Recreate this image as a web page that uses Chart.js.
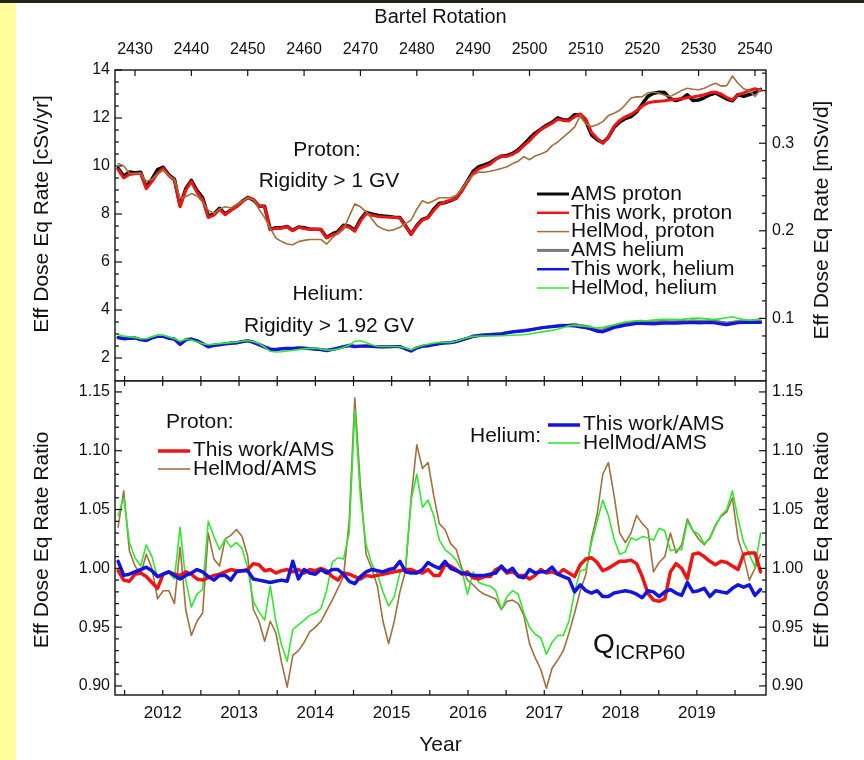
<!DOCTYPE html>
<html><head><meta charset="utf-8">
<script src="https://cdn.jsdelivr.net/npm/chart.js@4.4.1/dist/chart.umd.min.js"></script>
<style>
html,body{margin:0;padding:0;background:#fff;}
#wrap{position:relative;width:864px;height:760px;overflow:hidden;background:#fff;}
#topbar{position:absolute;left:0;top:0;width:864px;height:3px;background:#232318;}
#strip{position:absolute;left:0;top:3px;width:16px;height:757px;background:#FFFF9C;}
#c1{position:absolute;left:0;top:0;}
#c2{position:absolute;left:0;top:370px;}
</style></head><body>
<div id="wrap"><div id="topbar"></div><div id="strip"></div>
<canvas id="c1" width="864" height="381"></canvas>
<canvas id="c2" width="864" height="390"></canvas>
</div>
<script>
// ---------- DATA (one value per Bartels rotation) ----------
const BR = [2427,2428,2429,2430,2431,2432,2433,2434,2435,2436,
2437,2438,2439,2440,2441,2442,2443,2444,2445,2446,
2447,2448,2449,2450,2451,2452,2453,2454,2455,2456,
2457,2458,2459,2460,2461,2462,2463,2464,2465,2466,
2467,2468,2469,2470,2471,2472,2473,2474,2475,2476,
2477,2478,2479,2480,2481,2482,2483,2484,2485,2486,
2487,2488,2489,2490,2491,2492,2493,2494,2495,2496,
2497,2498,2499,2500,2501,2502,2503,2504,2505,2506,
2507,2508,2509,2510,2511,2512,2513,2514,2515,2516,
2517,2518,2519,2520,2521,2522,2523,2524,2525,2526,
2527,2528,2529,2530,2531,2532,2533,2534,2535,2536,
2537,2538,2539,2540,2541];

// Effective dose equivalent rate [cSv/yr]
const AMS_PROTON = [9.9,9.58,9.75,9.72,9.74,9.12,9.45,9.85,9.95,9.63,
9.45,8.35,9.05,9.4,8.98,8.68,7.92,8.0,8.24,8.0,
8.16,8.32,8.52,8.69,8.59,8.33,8.32,7.36,7.43,7.43,
7.48,7.32,7.46,7.43,7.37,7.36,7.35,7.02,7.17,7.27,
7.53,7.49,7.33,7.77,8.07,8.0,7.95,7.92,7.9,7.87,
7.85,7.51,7.16,7.52,7.78,7.86,8.2,8.45,8.47,8.56,
8.66,9.0,9.38,9.78,9.97,10.05,10.14,10.29,10.41,10.44,
10.52,10.68,10.91,11.15,11.37,11.53,11.7,11.82,12.01,11.92,
11.93,12.14,12.13,11.85,11.3,11.1,10.97,11.2,11.61,11.83,
11.98,12.06,12.25,12.58,12.9,13.03,13.07,13.06,12.8,12.73,
12.8,12.97,12.73,12.75,12.84,12.97,13.04,12.92,12.79,12.72,
12.98,12.9,12.98,13.05,13.19];
const THIS_PROTON = [9.85,9.5,9.65,9.68,9.7,9.05,9.35,9.7,9.9,9.6,
9.4,8.3,9.0,9.35,8.9,8.6,7.85,7.95,8.2,7.97,
8.15,8.3,8.5,8.68,8.62,8.35,8.3,7.35,7.4,7.42,
7.47,7.3,7.45,7.4,7.36,7.35,7.35,7.0,7.12,7.2,
7.5,7.45,7.28,7.7,8.02,7.95,7.9,7.88,7.87,7.85,
7.83,7.5,7.15,7.5,7.75,7.85,8.15,8.4,8.5,8.58,
8.65,8.95,9.35,9.7,9.88,9.98,10.07,10.28,10.42,10.4,
10.49,10.62,10.85,11.05,11.3,11.52,11.65,11.78,11.95,11.9,
11.88,12.05,12.17,11.95,11.4,11.15,10.95,11.2,11.65,11.9,
12.05,12.15,12.3,12.5,12.63,12.68,12.7,12.72,12.76,12.78,
12.8,12.85,12.88,12.92,12.97,13.05,13.08,13.0,12.85,12.75,
12.97,13.05,13.15,13.22,13.15];
const HELMOD_PROTON = [10.1,10.0,9.7,9.68,9.7,9.35,9.45,9.65,9.83,9.6,
9.45,8.65,8.72,8.85,8.75,8.5,8.15,8.03,8.2,8.3,
8.25,8.4,8.52,8.68,8.6,8.2,7.85,7.4,7.0,6.85,
6.75,6.72,6.85,6.9,6.94,6.94,6.94,6.75,7.0,7.2,
7.35,7.9,8.42,8.3,8.1,7.8,7.5,7.38,7.3,7.35,
7.45,7.6,7.75,8.2,8.55,8.45,8.55,8.68,8.68,8.68,
8.78,9.05,9.4,9.62,9.75,9.74,9.78,9.83,9.9,9.97,
10.1,10.2,10.39,10.26,10.42,10.5,10.6,10.85,11.0,11.2,
11.4,11.62,12.1,11.75,11.65,11.72,11.85,12.1,12.2,12.32,
12.55,12.83,12.88,12.89,13.05,13.08,13.03,12.95,12.9,13.02,
13.15,13.24,13.2,13.18,13.24,13.35,13.45,13.33,13.35,13.75,
13.45,13.22,13.15,12.9,13.2];
const AMS_HELIUM = [2.84,2.82,2.83,2.84,2.76,2.73,2.84,2.92,2.91,2.83,
2.8,2.58,2.77,2.8,2.72,2.61,2.48,2.55,2.56,2.6,
2.64,2.64,2.68,2.72,2.67,2.58,2.48,2.39,2.37,2.4,
2.42,2.39,2.43,2.41,2.4,2.38,2.35,2.32,2.36,2.41,
2.48,2.54,2.5,2.5,2.51,2.48,2.47,2.47,2.47,2.48,
2.46,2.39,2.3,2.43,2.49,2.5,2.56,2.6,2.62,2.64,
2.69,2.76,2.83,2.92,2.95,2.97,2.99,3.0,3.0,3.06,
3.09,3.13,3.16,3.17,3.22,3.26,3.29,3.31,3.35,3.37,
3.38,3.41,3.35,3.32,3.27,3.18,3.17,3.26,3.34,3.39,
3.44,3.47,3.52,3.53,3.5,3.49,3.52,3.52,3.51,3.52,
3.54,3.51,3.55,3.53,3.53,3.57,3.53,3.49,3.46,3.49,
3.52,3.54,3.53,3.56,3.54];
const THIS_HELIUM = [2.85,2.8,2.82,2.83,2.76,2.73,2.83,2.9,2.9,2.82,
2.78,2.56,2.75,2.79,2.72,2.6,2.46,2.52,2.55,2.59,
2.61,2.63,2.68,2.72,2.65,2.55,2.45,2.36,2.35,2.38,
2.39,2.4,2.41,2.41,2.39,2.37,2.35,2.31,2.36,2.41,
2.47,2.51,2.47,2.49,2.5,2.48,2.47,2.46,2.47,2.48,
2.48,2.38,2.29,2.42,2.49,2.51,2.56,2.6,2.63,2.64,
2.68,2.75,2.82,2.9,2.93,2.95,2.97,2.99,3.01,3.05,
3.09,3.11,3.13,3.17,3.21,3.25,3.28,3.31,3.33,3.35,
3.35,3.34,3.3,3.26,3.2,3.12,3.09,3.18,3.27,3.32,
3.37,3.4,3.44,3.44,3.43,3.42,3.44,3.45,3.45,3.45,
3.46,3.47,3.48,3.46,3.47,3.48,3.46,3.42,3.39,3.43,
3.47,3.48,3.48,3.48,3.48];
const HELMOD_HELIUM = [2.98,2.91,2.88,2.86,2.8,2.8,2.88,2.95,2.95,2.88,
2.8,2.7,2.78,2.75,2.68,2.6,2.55,2.57,2.6,2.62,
2.64,2.66,2.7,2.73,2.68,2.6,2.45,2.28,2.25,2.26,
2.29,2.32,2.35,2.38,2.4,2.41,2.38,2.32,2.34,2.37,
2.45,2.53,2.7,2.72,2.65,2.55,2.49,2.48,2.48,2.48,
2.47,2.42,2.34,2.45,2.52,2.57,2.62,2.65,2.65,2.65,
2.7,2.77,2.85,2.9,2.92,2.92,2.92,2.92,2.93,2.94,
2.95,2.96,2.97,3.0,3.04,3.08,3.12,3.15,3.2,3.27,
3.34,3.37,3.34,3.31,3.28,3.25,3.28,3.33,3.38,3.45,
3.5,3.53,3.54,3.55,3.56,3.58,3.6,3.61,3.61,3.6,
3.61,3.63,3.65,3.66,3.64,3.62,3.61,3.64,3.68,3.72,
3.65,3.6,3.58,3.59,3.65];

// Ratios to AMS
const RATIO_THIS_PROTON = [0.998,0.990,0.989,0.995,0.996,0.993,0.988,0.983,0.995,0.997,
0.995,0.994,0.997,0.995,0.991,0.990,0.992,0.994,0.995,0.997,
0.999,0.998,0.998,0.999,1.004,1.003,0.998,0.999,0.996,0.998,
0.999,0.997,0.999,0.996,0.999,0.998,1.000,0.998,0.993,0.990,
0.996,0.995,0.993,0.991,0.994,0.993,0.994,0.995,0.996,0.997,
0.998,0.999,0.999,0.997,0.996,0.999,0.994,0.994,1.003,1.002,
0.999,0.995,0.997,0.992,0.991,0.993,0.993,0.999,1.001,0.996,
0.997,0.994,0.994,0.991,0.994,0.999,0.996,0.997,0.995,0.999,
0.996,0.993,1.003,1.008,1.009,1.005,0.998,1.000,1.003,1.006,
1.006,1.007,1.004,0.993,0.979,0.973,0.972,0.974,0.997,1.004,
1.000,0.991,1.012,1.013,1.010,1.006,1.003,1.006,1.005,1.002,
0.999,1.012,1.013,1.013,0.997];
const RATIO_HELMOD_PROTON = [1.035,1.066,1.015,1.002,0.995,1.012,1.000,0.974,0.981,0.981,
0.970,1.018,0.965,0.943,0.955,0.962,1.030,1.008,1.002,1.025,
1.028,1.033,1.027,1.010,0.965,0.955,0.938,0.955,0.945,0.920,
0.899,0.926,0.930,0.937,0.946,0.950,0.955,0.964,0.973,0.983,
0.993,1.040,1.145,1.070,1.012,1.000,0.985,0.955,0.936,0.955,
0.980,0.998,1.060,1.105,1.085,1.090,1.062,1.038,1.033,1.021,
1.016,1.000,0.990,0.986,0.981,0.978,0.976,0.974,0.965,0.972,
0.973,0.970,0.960,0.936,0.924,0.914,0.898,0.915,0.922,0.930,
0.945,0.962,0.981,0.995,1.025,1.046,1.080,1.090,1.062,1.030,
1.022,1.030,1.045,1.038,1.033,0.997,1.005,1.010,1.030,1.013,
1.020,1.042,1.032,1.025,1.020,1.026,1.037,1.044,1.048,1.060,
1.025,1.010,0.990,1.000,1.012];
const RATIO_THIS_HELIUM = [1.006,0.994,0.995,0.997,0.999,1.001,0.998,0.993,0.995,0.997,
0.994,0.991,0.994,0.996,0.999,0.997,0.993,0.990,0.994,0.994,
0.990,0.997,0.998,0.998,0.991,0.990,0.989,0.988,0.989,0.990,
0.989,1.006,0.991,0.999,0.996,0.995,0.999,0.996,0.999,0.999,
0.995,0.989,0.987,0.993,0.997,0.999,0.998,0.997,0.999,1.000,
1.006,0.997,0.996,0.996,0.999,1.005,1.002,1.000,1.006,1.000,
0.998,0.996,0.995,0.994,0.994,0.994,0.995,0.996,1.002,0.997,
1.000,0.993,0.992,0.999,0.996,0.997,0.997,1.001,0.995,0.993,
0.991,0.980,0.986,0.981,0.979,0.981,0.976,0.976,0.979,0.980,
0.981,0.980,0.978,0.975,0.981,0.980,0.976,0.980,0.982,0.979,
0.977,0.988,0.980,0.981,0.983,0.976,0.981,0.980,0.979,0.983,
0.986,0.984,0.986,0.977,0.982];
const RATIO_HELMOD_HELIUM = [1.045,1.060,1.022,1.009,1.002,1.020,1.010,0.992,0.995,0.996,
0.991,1.035,0.990,0.967,0.978,0.982,1.040,1.027,1.016,1.025,
1.018,1.022,1.017,1.000,0.972,0.963,0.956,0.985,0.955,0.935,
0.921,0.948,0.952,0.956,0.960,0.962,0.966,0.981,1.005,1.009,
1.008,1.030,1.135,1.060,1.020,1.004,0.995,0.980,0.968,0.976,
0.996,1.001,1.058,1.080,1.052,1.058,1.045,1.024,1.016,1.012,
1.007,0.998,0.978,0.997,0.988,0.986,0.985,0.981,0.965,0.976,
0.981,0.978,0.962,0.950,0.944,0.941,0.927,0.937,0.943,0.943,
0.955,0.980,0.998,0.999,1.022,1.040,1.058,1.045,1.025,1.012,
1.014,1.026,1.024,1.027,1.026,1.024,1.034,1.032,1.015,1.016,
1.016,1.040,1.032,1.029,1.021,1.025,1.036,1.045,1.050,1.066,
1.042,1.022,1.012,1.001,1.030];

// Tick labels
const BR_TICKS = [2430,2440,2450,2460,2470,2480,2490,2500,2510,2520,2530,2540];
const YEAR_LABELS = [2012,2013,2014,2015,2016,2017,2018,2019];
const DOSE_TICKS = [2,4,6,8,10,12,14];
const MSV_TICKS = [0.1,0.2,0.3];
const RATIO_TICKS = [0.90,0.95,1.00,1.05,1.10,1.15];

// ---------- layout / conversion constants ----------
const X_MIN = 2426.45, X_MAX = 2541.96;
const BR_AT_2012 = 2434.92, BR_PER_YEAR = 13.54;
const yearToBR = y => BR_AT_2012 + (y - 2012) * BR_PER_YEAR;
const CSV_PER_MSVD = 36.5;
const DOSE_MIN = 1.042, DOSE_MAX = 14;
const RATIO_MIN = 0.8923, RATIO_MAX = 1.1593;

const FONT = "'Liberation Sans', Arial, Helvetica, sans-serif";
Chart.defaults.font.family = FONT;
Chart.defaults.color = '#111';

const C = {black:'#0a0a0a', red:'#EE1515', brown:'#A0703F', gray:'#7a7a7a', blue:'#1414DC', green:'#33E633'};

function seq(a,b,s){const r=[];for(let v=a;v<=b+1e-9;v+=s)r.push(+v.toFixed(4));return r;}
function ds(label, vals, color, width, order, yID){
  return {label, data: BR.map((b,i)=>({x:b,y:vals[i]})), borderColor:color, backgroundColor:color,
    borderWidth:width, pointRadius:0, pointHoverRadius:0, tension:0, order, fill:false,
    borderJoinStyle:'round', borderCapStyle:'round', yAxisID: yID||'y'};
}
function txt(ctx,s,x,y,size,align){ctx.font=size+'px '+FONT;ctx.textAlign=align||'left';ctx.textBaseline='middle';ctx.fillStyle='#111';ctx.fillText(s,x,y);}
function vtxt(ctx,s,x,y,size){ctx.save();ctx.translate(x,y);ctx.rotate(-Math.PI/2);txt(ctx,s,0,0,size,'center');ctx.restore();}
function seg(ctx,x1,x2,y,color,w){ctx.strokeStyle=color;ctx.lineWidth=w;ctx.lineCap='butt';ctx.beginPath();ctx.moveTo(x1,y);ctx.lineTo(x2,y);ctx.stroke();}
const noPad = s => { s.paddingTop = 0; s.paddingBottom = 0; s.paddingLeft = 0; s.paddingRight = 0; };

function drawFrameTicks(chart, spec){
  const ctx = chart.ctx, a = chart.chartArea, xs = chart.scales.x;
  ctx.save();
  ctx.strokeStyle = '#111'; ctx.lineWidth = 1.2;
  const line = (x1,y1,x2,y2)=>{ctx.beginPath();ctx.moveTo(x1,y1);ctx.lineTo(x2,y2);ctx.stroke();};
  (spec.topX||[]).forEach(([v,len])=>{const p=xs.getPixelForValue(v); line(p,a.top,p,a.top+len);});
  (spec.botX||[]).forEach(([v,len])=>{const p=xs.getPixelForValue(v); line(p,a.bottom,p,a.bottom-len);});
  (spec.left||[]).forEach(([v,len])=>{const p=chart.scales[spec.leftID].getPixelForValue(v); line(a.left,p,a.left+len,p);});
  (spec.right||[]).forEach(([v,len])=>{const p=chart.scales[spec.rightID].getPixelForValue(v); line(a.right,p,a.right-len,p);});
  ctx.lineWidth = 1.4;
  ctx.strokeRect(a.left, a.top, a.right-a.left, a.bottom-a.top);
  ctx.restore();
}

const halfYears = seq(2011.5, 2019.5, 0.5).map(y=>[yearToBR(y), 5]);
const TXT = 21;

// ---------- top panel ----------
const topSpec = {
  topX: BR_TICKS.map(v=>[v,6]),
  botX: halfYears,
  leftID:'y', left: seq(1.5,14,0.5).map(v=>[v, Number.isInteger(v/2)?7:4]),
  rightID:'y2', right: seq(0.04,0.38,0.02).map(v=>[v, (Math.abs(v*10-Math.round(v*10))<1e-6)?7:4])
};
const topPlugin = {
  id:'topDecor',
  afterDraw(chart){
    drawFrameTicks(chart, topSpec);
    const ctx = chart.ctx; ctx.save();
    vtxt(ctx,'Eff Dose Eq Rate [cSv/yr]',42,214,TXT);
    vtxt(ctx,'Eff Dose Eq Rate [mSv/d]',822,220,TXT);
    txt(ctx,'Proton:',327,150,TXT,'center');
    txt(ctx,'Rigidity > 1 GV',329,181,TXT,'center');
    txt(ctx,'Helium:',328,294,TXT,'center');
    txt(ctx,'Rigidity > 1.92 GV',329,326,TXT,'center');
    const rows = [['AMS proton',C.black,3],['This work, proton',C.red,2.5],['HelMod, proton',C.brown,1.5],
                  ['AMS helium',C.gray,3],['This work, helium',C.blue,2.5],['HelMod, helium',C.green,1.5]];
    rows.forEach((r,i)=>{const y=194+i*18.8; seg(ctx,537,569,y,r[1],r[2]); txt(ctx,r[0],571,y,TXT,'left');});
    ctx.restore();
  }
};

new Chart(document.getElementById('c1'), {
  type:'line',
  data:{datasets:[
    ds('AMS proton', AMS_PROTON, C.black, 3.5, 3),
    ds('This work, proton', THIS_PROTON, C.red, 3, 2),
    ds('HelMod, proton', HELMOD_PROTON, C.brown, 1.6, 1),
    ds('AMS helium', AMS_HELIUM, C.gray, 3, 3),
    ds('This work, helium', THIS_HELIUM, C.blue, 3.2, 2),
    ds('HelMod, helium', HELMOD_HELIUM, C.green, 1.6, 1)
  ]},
  options:{
    responsive:false, animation:false, devicePixelRatio:1,
    layout:{padding:{top:0,bottom:0,left:0,right:0}},
    plugins:{legend:{display:false}, tooltip:{enabled:false}},
    events:[],
    scales:{
      x:{type:'linear', position:'top', min:X_MIN, max:X_MAX,
        afterBuildTicks:s=>{s.ticks=BR_TICKS.map(v=>({value:v}));},
        afterFit:s=>{s.height=70; noPad(s);},
        grid:{display:false, drawTicks:false}, border:{display:false},
        ticks:{font:{size:16}, color:'#111', padding:11, maxRotation:0, autoSkip:false, callback:v=>String(v)},
        title:{display:true, text:'Bartel Rotation', font:{size:20}, color:'#111', padding:{top:5,bottom:0}}},
      y:{type:'linear', position:'left', min:DOSE_MIN, max:DOSE_MAX,
        afterBuildTicks:s=>{s.ticks=DOSE_TICKS.map(v=>({value:v}));},
        afterFit:s=>{s.width=115; noPad(s);},
        grid:{display:false, drawTicks:false}, border:{display:false},
        ticks:{font:{size:16}, color:'#111', padding:5, autoSkip:false, callback:v=>String(v)}},
      y2:{type:'linear', position:'right', min:DOSE_MIN/CSV_PER_MSVD, max:DOSE_MAX/CSV_PER_MSVD,
        afterBuildTicks:s=>{s.ticks=MSV_TICKS.map(v=>({value:v}));},
        afterFit:s=>{s.width=98; noPad(s);},
        grid:{display:false, drawTicks:false}, border:{display:false},
        ticks:{font:{size:16}, color:'#111', padding:6, autoSkip:false, callback:v=>v.toFixed(1)}}
    }
  },
  plugins:[topPlugin]
});

// ---------- bottom panel ----------
const OFF = 370;
const ratioMinor = seq(0.90,1.15,0.01).map(v=>[v, (Math.abs(v*20-Math.round(v*20))<1e-6)?7:4]);
const botSpec = { topX: halfYears, botX: halfYears, leftID:'y', left: ratioMinor, rightID:'y2', right: ratioMinor };
const botPlugin = {
  id:'botDecor',
  afterDraw(chart){
    drawFrameTicks(chart, botSpec);
    const ctx = chart.ctx; ctx.save();
    vtxt(ctx,'Eff Dose Eq Rate Ratio',42,540-OFF,TXT);
    vtxt(ctx,'Eff Dose Eq Rate Ratio',822,540-OFF,TXT);
    txt(ctx,'Proton:',166,422-OFF,TXT,'left');
    seg(ctx,158,190,451-OFF,C.red,3.5); txt(ctx,'This work/AMS',193,450-OFF,TXT,'left');
    seg(ctx,158,190,469-OFF,C.brown,1.6); txt(ctx,'HelMod/AMS',193,469-OFF,TXT,'left');
    txt(ctx,'Helium:',470,436-OFF,TXT,'left');
    seg(ctx,548,580,425-OFF,C.blue,3.5); txt(ctx,'This work/AMS',583,424-OFF,TXT,'left');
    seg(ctx,548,580,443-OFF,C.green,1.6); txt(ctx,'HelMod/AMS',583,443-OFF,TXT,'left');
    ctx.font='28px '+FONT; ctx.textAlign='left'; ctx.textBaseline='alphabetic'; ctx.fillStyle='#111';
    ctx.fillText('Q',593,653-OFF);
    ctx.font='20px '+FONT; ctx.fillText('ICRP60',615,659-OFF);
    ctx.restore();
  }
};

new Chart(document.getElementById('c2'), {
  type:'line',
  data:{datasets:[
    ds('This work/AMS, proton', RATIO_THIS_PROTON, C.red, 3.5, 1),
    ds('HelMod/AMS, proton', RATIO_HELMOD_PROTON, C.brown, 1.6, 3),
    ds('This work/AMS, helium', RATIO_THIS_HELIUM, C.blue, 3.5, 0),
    ds('HelMod/AMS, helium', RATIO_HELMOD_HELIUM, C.green, 1.6, 2)
  ]},
  options:{
    responsive:false, animation:false, devicePixelRatio:1,
    layout:{padding:{top:11,bottom:0,left:0,right:0}},
    plugins:{legend:{display:false}, tooltip:{enabled:false}},
    events:[],
    scales:{
      x:{type:'linear', position:'bottom', min:X_MIN, max:X_MAX,
        afterBuildTicks:s=>{s.ticks=YEAR_LABELS.map(y=>({value:yearToBR(y)}));},
        afterFit:s=>{s.height=65; noPad(s);},
        grid:{display:false, drawTicks:false}, border:{display:false},
        ticks:{font:{size:17}, color:'#111', padding:8, maxRotation:0, autoSkip:false, callback:(v,i)=>String(YEAR_LABELS[i])},
        title:{display:true, text:'Year', font:{size:21}, color:'#111', padding:{top:0,bottom:2}}},
      y:{type:'linear', position:'left', min:RATIO_MIN, max:RATIO_MAX,
        afterBuildTicks:s=>{s.ticks=RATIO_TICKS.map(v=>({value:v}));},
        afterFit:s=>{s.width=115; noPad(s);},
        grid:{display:false, drawTicks:false}, border:{display:false},
        ticks:{font:{size:16}, color:'#111', padding:5, autoSkip:false, callback:v=>v.toFixed(2)}},
      y2:{type:'linear', position:'right', min:RATIO_MIN, max:RATIO_MAX,
        afterBuildTicks:s=>{s.ticks=RATIO_TICKS.map(v=>({value:v}));},
        afterFit:s=>{s.width=98; noPad(s);},
        grid:{display:false, drawTicks:false}, border:{display:false},
        ticks:{font:{size:16}, color:'#111', padding:6, autoSkip:false, callback:v=>v.toFixed(2)}}
    }
  },
  plugins:[botPlugin]
});
</script>
</body></html>
